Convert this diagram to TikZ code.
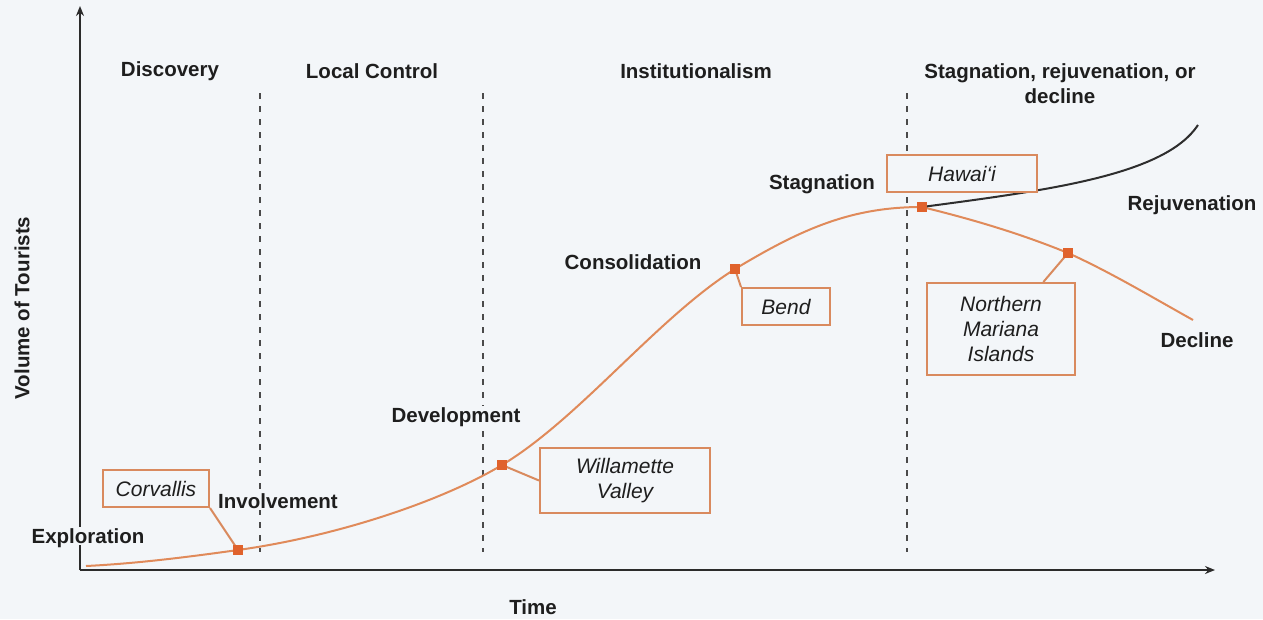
\documentclass[tikz,border=0pt]{standalone}
\usepackage{fontspec}
\setmainfont{Liberation Sans}
\usetikzlibrary{arrows.meta}
\definecolor{bg}{HTML}{F3F6F9}
\definecolor{ink}{HTML}{1E1E1E}
\definecolor{axc}{HTML}{2B2B2B}
\definecolor{dashc}{HTML}{4A4A4A}
\definecolor{curvec}{HTML}{E08A5A}
\definecolor{boxc}{HTML}{D98A5E}
\definecolor{mkc}{HTML}{E0622C}
\definecolor{rejc}{HTML}{2E2E2E}
\begin{document}
\begin{tikzpicture}[x=1pt,y=-1pt,
  lbl/.style={font=\fontsize{20.5}{25}\selectfont\bfseries, text=ink, fill=bg, inner sep=2pt, text height=14.7pt, text depth=0pt},
  head/.style={font=\fontsize{20.5}{25}\selectfont\bfseries, text=ink, align=center, inner sep=2pt},
  place/.style={draw=boxc, line width=2pt, fill=bg, font=\fontsize{21}{25}\selectfont\itshape, text=ink, align=center, inner sep=0pt},
  mk/.style={fill=mkc, minimum size=10pt, inner sep=0pt},
  divider/.style={draw=dashc, line width=1.6pt, dash pattern=on 6pt off 7pt},
  axis/.style={draw=axc, line width=2.4pt, -{Stealth[length=10pt,width=8pt]}},
  curve/.style={draw=curvec, line width=2pt},
  rejuv/.style={draw=rejc, line width=2pt},
  link/.style={draw=boxc, line width=2pt}]
\useasboundingbox[fill=bg] (0,0) rectangle (1263,619);

% axes
\coordinate (O) at (80,570);
\coordinate (ytop) at (80,6);
\coordinate (xend) at (1215,570);
\draw[axis] (O) -- (ytop);
\draw[axis] (O) -- (xend);

% dividers
\coordinate (d1t) at (260,93); \coordinate (d1b) at (260,552);
\coordinate (d2t) at (483,93); \coordinate (d2b) at (483,552);
\coordinate (d3t) at (907,93); \coordinate (d3b) at (907,552);
\draw[divider] (d1t) -- (d1b);
\draw[divider] (d2t) -- (d2b);
\draw[divider] (d3t) -- (d3b);

% curve points
\coordinate (p0) at (86,566);
\coordinate (pC) at (238,550);
\coordinate (pW) at (502,465);
\coordinate (pB) at (735,269);
\coordinate (pH) at (922,207);
\coordinate (pN) at (1068,253);
\coordinate (pE) at (1193,320);
\coordinate (pR) at (1198,125);

\draw[curve] (p0) .. controls (137,563.5) and (188,557) .. (pC)
  .. controls (338,536) and (442,501) .. (pW)
  .. controls (580,418) and (657,318) .. (pB)
  .. controls (803,228) and (852,207) .. (pH)
  .. controls (971,219) and (1019,233) .. (pN)
  .. controls (1110,272) and (1150,296) .. (pE);
\draw[rejuv] (pH) .. controls (1050,190) and (1165,175) .. (pR);

% headings
\node[head] (hDisc) at (170,71) {Discovery};
\node[head] (hLoc) at (372,71) {Local Control};
\node[head] (hInst) at (696,71) {Institutionalism};
\node[head] (hStag) at (1060,84) {Stagnation, rejuvenation, or\\decline};

% stage labels
\node[lbl] (lExp) at (88,536) {Exploration};
\node[lbl] (lInv) at (278,501) {Involvement};
\node[lbl] (lDev) at (456,415) {Development};
\node[lbl] (lCon) at (633,262) {Consolidation};
\node[lbl] (lSta) at (822,182) {Stagnation};
\node[lbl] (lRej) at (1192,203) {Rejuvenation};
\node[lbl] (lDec) at (1197,340) {Decline};

% axis titles
\node[lbl] (tTime) at (533,607) {Time};
\node[lbl, rotate=90] (tVol) at (22,308) {Volume of Tourists};

% place boxes
\node[place, minimum width=106pt, minimum height=37pt] (bCor) at (156,488.5) {Corvallis};
\node[place, minimum width=170pt, minimum height=65pt] (bWil) at (625,480.5) {Willamette\\Valley};
\node[place, minimum width=88pt, minimum height=37pt] (bBen) at (786,306.5) {Bend};
\node[place, minimum width=150pt, minimum height=37pt] (bHaw) at (962,173.5) {Hawai‘i};
\node[place, minimum width=148pt, minimum height=92pt] (bNMI) at (1001,329) {Northern\\Mariana\\Islands};

% connectors
\draw[link] (bCor.south east) -- (pC);
\draw[link] (bWil.west) -- (pW);
\draw[link] (bBen.north west) -- (pB);
\draw[link] (bNMI.48) -- (pN);

% markers
\node[mk] (mC) at (pC) {};
\node[mk] (mW) at (pW) {};
\node[mk] (mB) at (pB) {};
\node[mk] (mH) at (pH) {};
\node[mk] (mN) at (pN) {};
\end{tikzpicture}
\end{document}
